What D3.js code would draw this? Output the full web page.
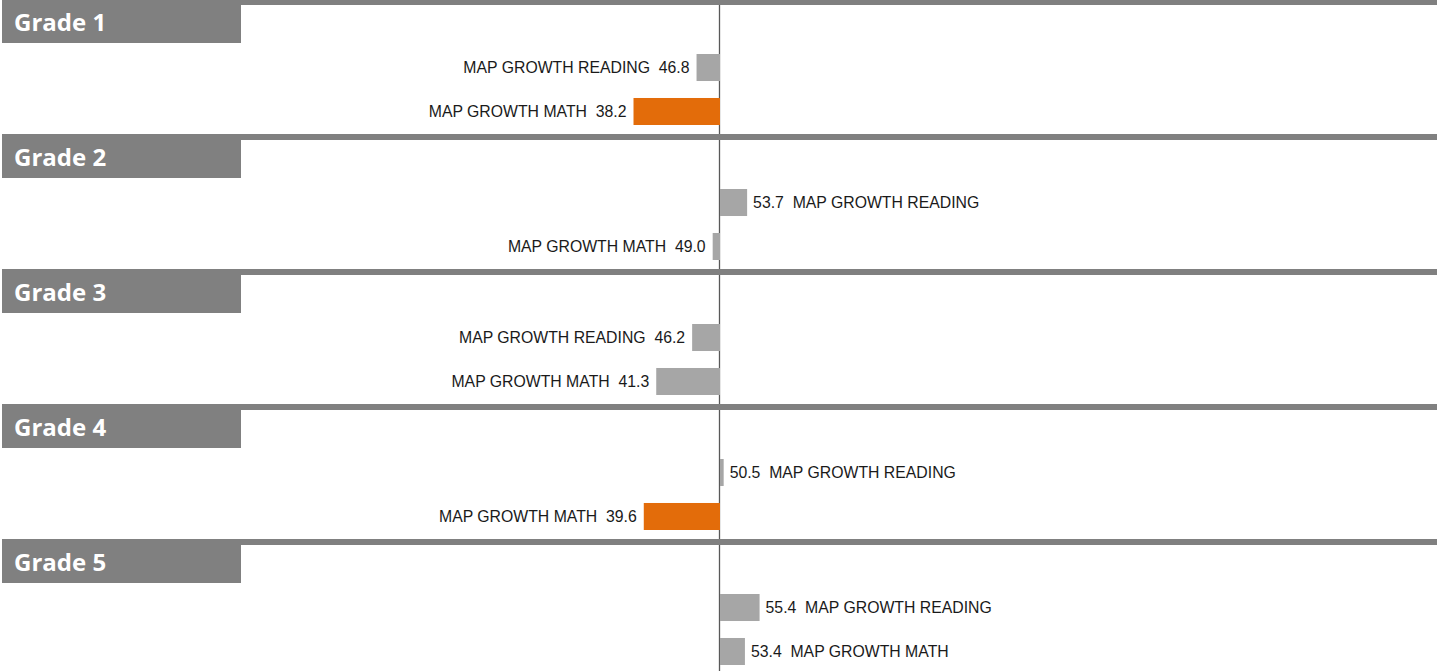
<!DOCTYPE html>
<html>
<head>
<meta charset="utf-8">
<script src="https://cdn.jsdelivr.net/npm/d3@7"></script>
<style>
  html, body { margin: 0; padding: 0; background: #fff; }
  svg { display: block; }
</style>
</head>
<body>
<svg id="chart" width="1446" height="671"></svg>
<script>
// ---- data ----
const grades = ["Grade 1", "Grade 2", "Grade 3", "Grade 4", "Grade 5"];
const subjects = ["MAP GROWTH READING", "MAP GROWTH MATH"];
const readingValues = [46.8, 53.7, 46.2, 50.5, 55.4];
const mathValues = [38.2, 49.0, 41.3, 39.6, 53.4];
const baseline = 50;
const highlightBelow = 40;

// ---- layout ----
const W = 1446, H = 671;
const svg = d3.select("#chart");

const x = d3.scaleLinear().domain([0, 100]).range([353.5, 1086.5]);
const ySection = d3.scaleBand().domain(grades).range([-1, -1 + 135 * grades.length]).paddingInner(0).paddingOuter(0);
const ySub = d3.scaleBand().domain(subjects).range([55, 126]).paddingInner(0.386).paddingOuter(0);

const rows = [];
grades.forEach((g, i) => {
  rows.push({ grade: g, subject: subjects[0], value: readingValues[i] });
  rows.push({ grade: g, subject: subjects[1], value: mathValues[i] });
});

const x0 = x(baseline);

// vertical axis line
svg.append("line")
  .attr("x1", Math.round(x0) - 0.5).attr("x2", Math.round(x0) - 0.5)
  .attr("y1", 0).attr("y2", H)
  .attr("stroke", "#595959").attr("stroke-width", 1.3);

// bars
svg.selectAll("rect.bar").data(rows).enter().append("rect")
  .attr("class", "bar")
  .attr("x", d => Math.min(x(d.value), x0))
  .attr("width", d => Math.abs(x(d.value) - x0))
  .attr("y", d => ySection(d.grade) + ySub(d.subject))
  .attr("height", ySub.bandwidth())
  .attr("fill", d => d.value < highlightBelow ? "#E36C0A" : "#A6A6A6");

// labels
svg.selectAll("text.lbl").data(rows).enter().append("text")
  .attr("class", "lbl")
  .attr("x", d => d.value >= baseline ? x(d.value) + 6 : x(d.value) - 7)
  .attr("y", d => ySection(d.grade) + ySub(d.subject) + ySub.bandwidth() / 2 + 5.5)
  .attr("text-anchor", d => d.value >= baseline ? "start" : "end")
  .attr("font-family", "'Liberation Sans', Arial, sans-serif")
  .attr("font-size", "15.8px")
  .attr("fill", "#1a1a1a")
  .style("white-space", "pre")
  .attr("xml:space", "preserve")
  .text(d => d.value >= baseline
    ? d.value.toFixed(1) + "\u00a0\u00a0" + d.subject
    : d.subject + "\u00a0\u00a0" + d.value.toFixed(1));

// section headers
const hdr = svg.selectAll("g.hdr").data(grades).enter().append("g")
  .attr("class", "hdr")
  .attr("transform", d => `translate(0,${ySection(d)})`);

hdr.append("rect")
  .attr("x", 2).attr("y", 0).attr("width", 1435).attr("height", 6)
  .attr("fill", "#808080");
hdr.append("rect")
  .attr("x", 2).attr("y", 0).attr("width", 239).attr("height", 44)
  .attr("fill", "#808080");
hdr.append("text")
  .attr("x", 14).attr("y", 31.5)
  .attr("font-family", "'Open Sans', sans-serif")
  .attr("font-weight", "bold")
  .attr("font-size", "24px")
  .attr("fill", "#fff")
  .text(d => d);
</script>
</body>
</html>
